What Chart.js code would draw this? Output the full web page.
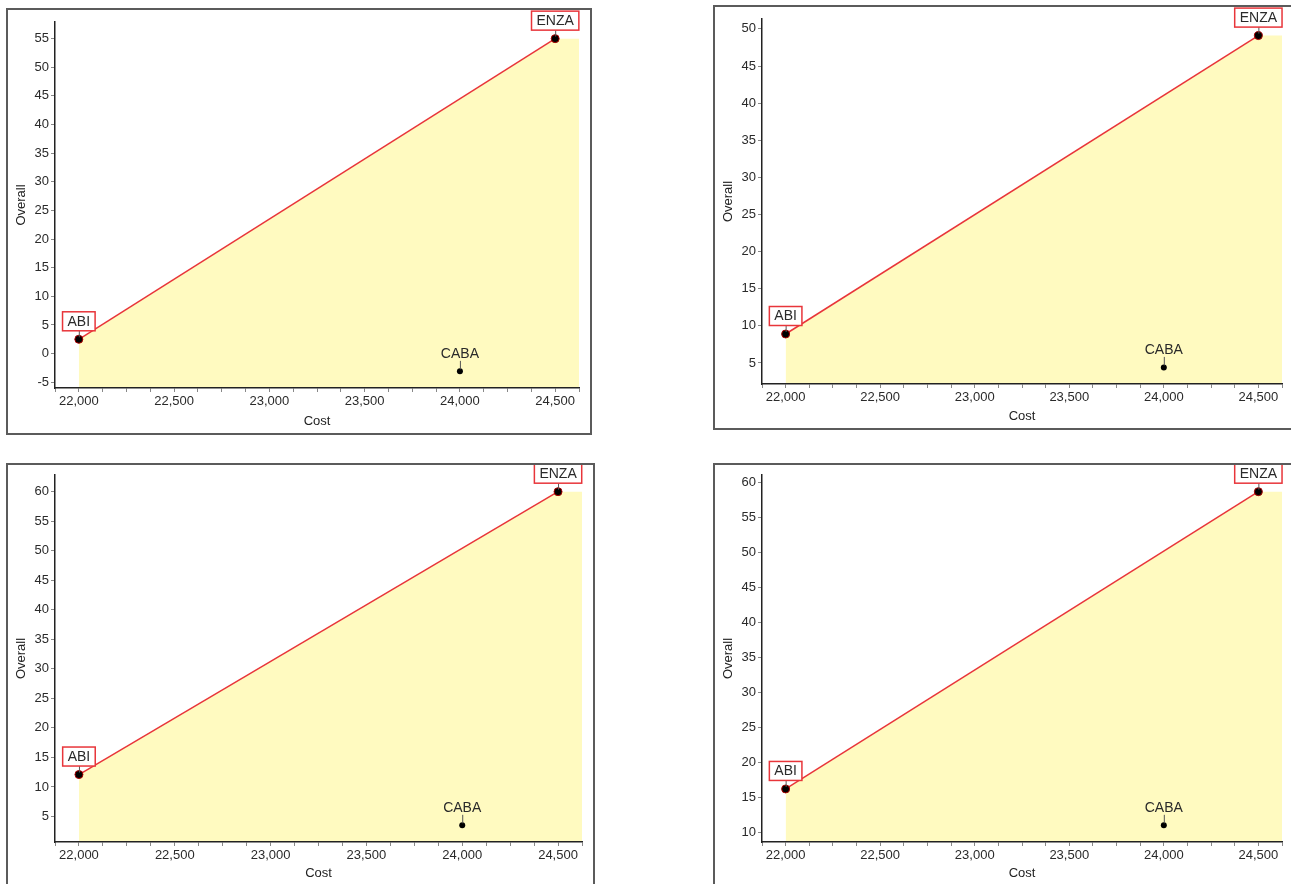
<!DOCTYPE html>
<html>
<head>
<meta charset="utf-8">
<script src="https://cdn.jsdelivr.net/npm/chart.js@4.4.1/dist/chart.umd.min.js"></script>
<style>
  html, body { margin: 0; padding: 0; background: #fff; width: 1291px; height: 884px; overflow: hidden; }
  .panel { position: absolute; box-sizing: border-box; border: 2px solid #5b5b5b; background: #fff; }
  .panel canvas { position: absolute; left: 0; top: 0; }
</style>
</head>
<body>
<div class="panel" id="p1"><canvas id="c1"></canvas></div>
<div class="panel" id="p2"><canvas id="c2"></canvas></div>
<div class="panel" id="p3"><canvas id="c3"></canvas></div>
<div class="panel" id="p4"><canvas id="c4"></canvas></div>
<script>
const strategies = ['ABI', 'CABA', 'ENZA']
const costs = [22000, 24000, 24500]
const overallTopLeft = [2.5, -3.1, 55]
const overallTopRight = [8.9, 4.4, 49.1]
const overallBottomLeft = [12.1, 3.5, 60]
const overallBottomRight = [16.2, 11.0, 58.7]
const frontier = ['ABI', 'ENZA']
const costStep = 125
const costLabelStep = 500
const overallStep = 5

const FONT = '"Liberation Sans", Arial, sans-serif'
const TEXT = '#2a2a2a'
const YELLOW = 'rgb(255, 250, 192)'
const RED = '#e8353a'

// box: [left, top, width, height] of the bordered frame, plot: [left, top, right, bottom] in page px
const panels = [
  { canvas: 'c1', frame: 'p1', box: [6, 8, 586, 427], plot: [55, 22, 579, 388], costTitleY: 421, values: overallTopLeft },
  { canvas: 'c2', frame: 'p2', box: [713, 5, 600, 425], plot: [762, 19, 1282, 384], costTitleY: 416, values: overallTopRight },
  { canvas: 'c3', frame: 'p3', box: [6, 463, 589, 440], plot: [55, 475, 582, 842], costTitleY: 873, values: overallBottomLeft },
  { canvas: 'c4', frame: 'p4', box: [713, 463, 600, 440], plot: [762, 475, 1282, 842], costTitleY: 873, values: overallBottomRight }
]

function padRange(arr) {
  const lo = Math.min(...arr)
  const hi = Math.max(...arr)
  const pad = (hi - lo) * 0.05
  return [lo - pad, hi + pad]
}

// boxed / plain name labels above each strategy point
const pointLabels = {
  id: 'pointLabels',
  afterDraw(chart, args, opts) {
    const { ctx } = chart
    const x = chart.scales.x
    const y = chart.scales.y
    ctx.save()
    ctx.font = '14px ' + FONT
    ctx.textAlign = 'center'
    ctx.textBaseline = 'middle'
    strategies.forEach((name, i) => {
      const px = x.getPixelForValue(costs[i])
      const py = y.getPixelForValue(opts.values[i])
      const ty = py - 18
      const w = ctx.measureText(name).width
      const boxed = frontier.includes(name)

      ctx.strokeStyle = '#555'
      ctx.lineWidth = 1
      ctx.beginPath()
      ctx.moveTo(px + 0.5, ty + (boxed ? 9.5 : 7.5))
      ctx.lineTo(px + 0.5, py - 2)
      ctx.stroke()

      if (boxed) {
        ctx.fillStyle = '#fff'
        ctx.fillRect(px - w / 2 - 5, ty - 9.5, w + 10, 19)
        ctx.strokeStyle = RED
        ctx.lineWidth = 1.5
        ctx.strokeRect(px - w / 2 - 5, ty - 9.5, w + 10, 19)
      }
      ctx.fillStyle = TEXT
      ctx.fillText(name, px, ty + 0.5)
    })
    ctx.restore()
  }
}

panels.forEach(p => {
  const frame = document.getElementById(p.frame)
  const [bl, bt, bw, bh] = p.box
  frame.style.left = bl + 'px'
  frame.style.top = bt + 'px'
  frame.style.width = bw + 'px'
  frame.style.height = bh + 'px'

  const cl = bl + 2, ct = bt + 2, cw = bw - 4, chh = bh - 4
  const canvas = document.getElementById(p.canvas)
  canvas.width = cw
  canvas.height = chh
  canvas.style.width = cw + 'px'
  canvas.style.height = chh + 'px'

  const [pl, pt, pr, pb] = p.plot
  const yAxisWidth = pl - cl
  const xAxisHeight = ct + chh - pb
  const lineH = 13 * 1.2

  const [xMin, xMax] = padRange(costs)
  const [yMin, yMax] = padRange(p.values)

  const pts = strategies.map((s, i) => ({ s, x: costs[i], y: p.values[i] }))
  const frontierPts = pts.filter(d => frontier.includes(d.s))
  const otherPts = pts.filter(d => !frontier.includes(d.s))
  const last = frontierPts[frontierPts.length - 1]
  const fillPts = frontierPts.map(d => ({ x: d.x, y: d.y })).concat([{ x: xMax, y: last.y }])

  new Chart(canvas.getContext('2d'), {
    type: 'scatter',
    data: {
      datasets: [
        {
          label: 'dominated',
          data: fillPts,
          showLine: true,
          fill: 'start',
          backgroundColor: YELLOW,
          borderWidth: 0,
          borderColor: 'transparent',
          pointRadius: 0,
          order: 3
        },
        {
          label: 'frontier',
          data: frontierPts,
          showLine: true,
          fill: false,
          borderColor: RED,
          borderWidth: 1.5,
          pointRadius: 4,
          pointBackgroundColor: '#000',
          pointBorderColor: '#a00',
          pointBorderWidth: 1,
          order: 1
        },
        {
          label: 'others',
          data: otherPts,
          showLine: false,
          pointRadius: 3,
          pointBackgroundColor: '#000',
          pointBorderColor: '#000',
          pointBorderWidth: 0,
          order: 2
        }
      ]
    },
    options: {
      responsive: false,
      animation: false,
      events: [],
      layout: { padding: { left: 0, top: pt - ct, right: cl + cw - pr, bottom: 0 } },
      plugins: {
        legend: { display: false },
        tooltip: { enabled: false },
        pointLabels: { values: p.values }
      },
      scales: {
        x: {
          type: 'linear',
          min: xMin,
          max: xMax,
          afterFit: s => { s.height = xAxisHeight },
          afterBuildTicks: s => {
            const t = []
            for (let v = Math.ceil(xMin / costStep) * costStep; v <= xMax + 1e-6; v += costStep) t.push({ value: v })
            s.ticks = t
          },
          grid: { drawOnChartArea: false, drawTicks: true, tickLength: 4, color: '#888', tickColor: '#888', z: 1 },
          border: { display: true, color: '#222', width: 1.5, z: 2 },
          ticks: {
            autoSkip: false,
            maxRotation: 0,
            padding: 2,
            color: TEXT,
            font: { family: FONT, size: 13 },
            callback: v => (v % costLabelStep === 0 ? v.toLocaleString('en-US') : '')
          },
          title: {
            display: true,
            text: 'Cost',
            color: '#222',
            font: { family: FONT, size: 13 },
            padding: { top: 0, bottom: (ct + chh) - p.costTitleY - lineH / 2 }
          }
        },
        y: {
          type: 'linear',
          min: yMin,
          max: yMax,
          afterFit: s => { s.width = yAxisWidth },
          afterBuildTicks: s => {
            const t = []
            for (let v = Math.ceil(yMin / overallStep) * overallStep; v <= yMax + 1e-6; v += overallStep) t.push({ value: v })
            s.ticks = t
          },
          grid: { drawOnChartArea: false, drawTicks: true, tickLength: 4, color: '#888', tickColor: '#888', z: 1 },
          border: { display: true, color: '#222', width: 1.5, z: 2 },
          ticks: {
            padding: 2,
            color: TEXT,
            font: { family: FONT, size: 13 },
            callback: v => String(v)
          },
          title: {
            display: true,
            text: 'Overall',
            color: '#222',
            font: { family: FONT, size: 13 },
            padding: { top: 13 - lineH / 2, bottom: 0 }
          }
        }
      }
    },
    plugins: [pointLabels]
  })
})
</script>
</body>
</html>
